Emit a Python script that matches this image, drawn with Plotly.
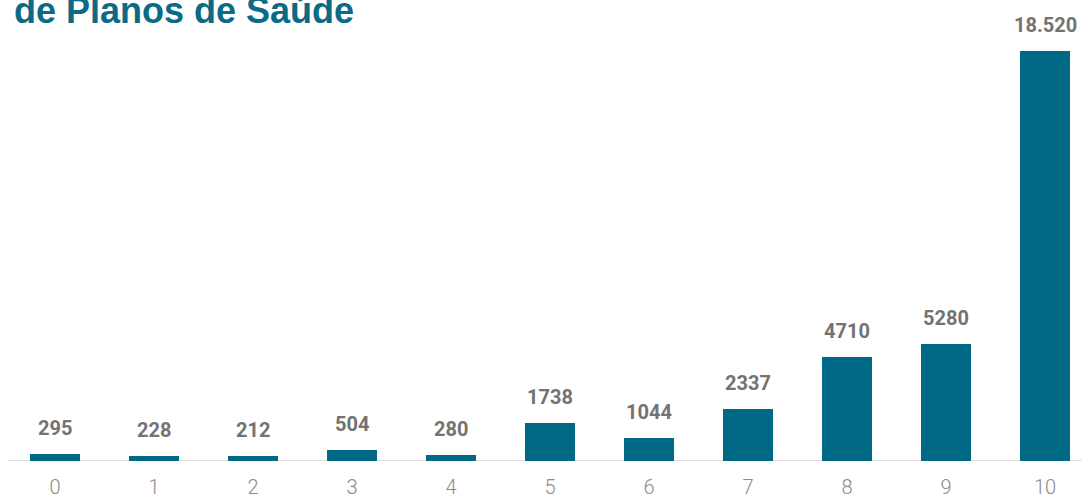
import plotly.graph_objects as go

categories = [0, 1, 2, 3, 4, 5, 6, 7, 8, 9, 10]
values = [295, 228, 212, 504, 280, 1738, 1044, 2337, 4710, 5280, 18520]
labels = ["295", "228", "212", "504", "280", "1738", "1044", "2337", "4710", "5280", "18.520"]
tick_text = [str(c) for c in categories]

BAR = "#006a86"

fig = go.Figure(go.Bar(
    x=categories, y=values, width=0.505,
    marker=dict(color=BAR, line=dict(width=0)),
    hoverinfo="x+y",
))

annotations = [
    dict(x=c, y=v, xref="x", yref="y", text="<b>%s</b>" % t, showarrow=False,
         xanchor="center", yanchor="bottom", yshift=12,
         font=dict(family="Roboto", size=20, color="#737373"))
    for c, v, t in zip(categories, values, labels)
]
annotations.append(dict(text="<b>de Planos de Saúde</b>", xref="paper", yref="paper",
                        x=12/1082, y=1, xanchor="left", yanchor="bottom", yshift=-33,
                        showarrow=False,
                        font=dict(family="Liberation Sans", size=36, color="#0b6a86")))

fig.update_layout(
    width=1082, height=498,
    margin=dict(l=0, r=0, t=0, b=37),
    paper_bgcolor="white", plot_bgcolor="white",
    showlegend=False,
    bargap=0,
    xaxis=dict(range=[-0.5556, 10.3737], tickmode="array", tickvals=categories, ticktext=tick_text,
               showgrid=False, zeroline=False, showline=False, automargin=False,
               ticks="outside", ticklen=8, tickcolor="rgba(0,0,0,0)",
               tickfont=dict(family="Roboto", size=20, color="#8a8a8a", weight=300)),
    yaxis=dict(range=[0, 20823], visible=False, automargin=False),
    shapes=[dict(type="line", xref="paper", yref="y", x0=8/1082, x1=1, y0=0, y1=0,
                 line=dict(color="#d9d9d9", width=1.5), layer="below")],
    annotations=annotations,
)

fig.write_html("out.html")
